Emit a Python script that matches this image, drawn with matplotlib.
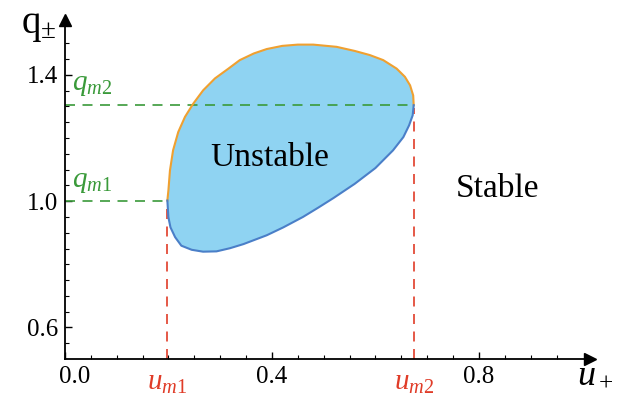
import numpy as np
import matplotlib
matplotlib.use("Agg")
import matplotlib.pyplot as plt
import matplotlib.transforms as mtransforms

plt.rcParams["font.family"] = "Liberation Serif"
plt.rcParams["mathtext.fontset"] = "custom"
plt.rcParams["mathtext.rm"] = "Liberation Serif"
plt.rcParams["mathtext.it"] = "Liberation Serif:italic"

# boundary of the unstable region
upper_u = [0.198, 0.200, 0.203, 0.209, 0.219, 0.232, 0.248, 0.267, 0.290, 0.316,
           0.338, 0.365, 0.390, 0.420, 0.450, 0.480, 0.525, 0.560, 0.589, 0.615,
           0.641, 0.657, 0.667, 0.673, 0.674]
upper_q = [1.002, 1.034, 1.097, 1.161, 1.219, 1.267, 1.309, 1.351, 1.389, 1.420,
           1.447, 1.468, 1.482, 1.492, 1.496, 1.496, 1.489, 1.476, 1.463, 1.447,
           1.420, 1.394, 1.367, 1.335, 1.304]
lower_u = [0.198, 0.200, 0.204, 0.213, 0.225, 0.245, 0.267, 0.293, 0.319, 0.345,
           0.390, 0.422, 0.460, 0.490, 0.519, 0.560, 0.600, 0.634, 0.654, 0.665,
           0.672, 0.674]
lower_q = [1.002, 0.949, 0.917, 0.886, 0.859, 0.846, 0.840, 0.841, 0.851, 0.864,
           0.892, 0.917, 0.950, 0.980, 1.010, 1.055, 1.105, 1.161, 1.203, 1.240,
           1.272, 1.304]

u_m1, u_m2 = 0.198, 0.674
q_m1, q_m2 = 1.0, 1.304
x_ticks = [0.0, 0.4, 0.8]
y_ticks = [0.6, 1.0, 1.4]

fig = plt.figure(figsize=(6.18, 4.0), dpi=100)
ax = fig.add_axes([0.105, 0.1025, 0.85, 0.8475])
ax.set_xlim(0, 1.015)
ax.set_ylim(0.5, 1.574)

# filled region
poly_u = upper_u + lower_u[::-1]
poly_q = upper_q + lower_q[::-1]
ax.fill(poly_u, poly_q, color="#8fd3f2", lw=0, zorder=1)
ax.plot(upper_u, upper_q, color="#f0a030", lw=1.5, zorder=3)
ax.plot(lower_u, lower_q, color="#4a7fc8", lw=1.5, zorder=3)

# guide lines
dash = (0, (6, 4.5))
ax.plot([0, u_m1], [q_m1, q_m1], ls=dash, color="#3a9a3a", lw=1.2, zorder=2)
ax.plot([0, u_m2], [q_m2, q_m2], ls=dash, color="#3a9a3a", lw=1.2, zorder=2)
ax.plot([u_m1, u_m1], [0.5, 0.985], ls=dash, color="#e03c28", lw=1.2, zorder=2)
ax.plot([u_m2, u_m2], [0.5, 1.295], ls=dash, color="#e03c28", lw=1.2, zorder=2)

# axes with arrows
for s in ["top", "right"]:
    ax.spines[s].set_visible(False)
ax.spines["left"].set_linewidth(1.3)
ax.spines["bottom"].set_linewidth(1.3)
ax.plot(1, 0, ">k", ms=8, transform=ax.transAxes, clip_on=False)
ax.plot(0, 1, "^k", ms=8, transform=ax.transAxes, clip_on=False)

ax.set_xticks(x_ticks)
ax.set_xticklabels(["0.0", "0.4", "0.8"])
ax.set_yticks(y_ticks)
ax.set_yticklabels(["0.6", "1.0", "1.4"])
ax.set_xticks(np.arange(0.05, 1.0, 0.05), minor=True)
ax.set_yticks(np.arange(0.55, 1.55, 0.05), minor=True)
ax.tick_params(which="major", direction="in", length=5, width=1, labelsize=18, pad=5)
ax.tick_params(which="minor", direction="in", length=3, width=0.8)

# nudge the origin label off the y axis
lab0 = ax.get_xticklabels()[0]
lab0.set_transform(lab0.get_transform() + mtransforms.ScaledTranslation(0.1, 0, fig.dpi_scale_trans))

# labels
ax.text(0.396, 1.139, "Unstable", fontsize=24, ha="center", va="center")
ax.text(0.835, 1.04, "Stable", fontsize=24, ha="center", va="center")
ax.text(0.013, 1.367, r"$q_{m\mathit{2}}$", fontsize=21, color="#3a9a3a", ha="left", va="center")
ax.text(0.013, 1.06, r"$q_{m\mathit{1}}$", fontsize=21, color="#3a9a3a", ha="left", va="center")
ax.text(u_m1, 0.425, r"$u_{m\mathit{1}}$", fontsize=21, color="#e03c28", ha="center", va="center", clip_on=False)
ax.text(u_m2, 0.425, r"$u_{m\mathit{2}}$", fontsize=21, color="#e03c28", ha="center", va="center", clip_on=False)
ax.text(1.025, 0.45, r"$u_+$", fontsize=26, ha="center", va="center", clip_on=False)
ax.text(-0.05, 1.555, r"$\mathrm{q}_{\pm}$", fontsize=28, ha="center", va="center", clip_on=False)

fig.savefig("out.png", dpi=100)
